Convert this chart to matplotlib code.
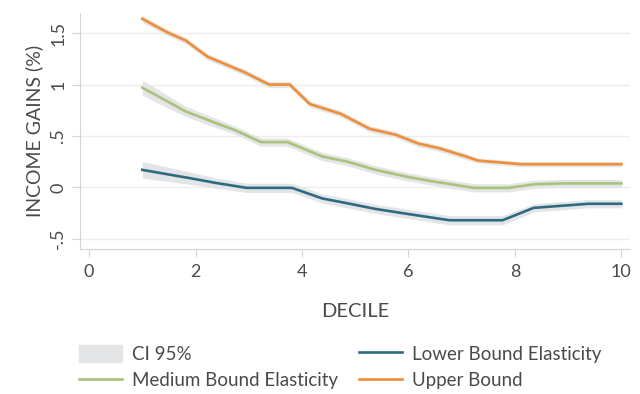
import matplotlib.pyplot as plt
from matplotlib.patches import Patch
from matplotlib.lines import Line2D

# values
lower_x = [1, 1.92, 2.38, 2.96, 3.81, 4.38, 4.85, 5.38, 6.0, 6.77, 7.77, 8.35, 9.38, 10]
lower_y = [0.17, 0.087, 0.043, -0.005, -0.005, -0.108, -0.155, -0.21, -0.26, -0.32, -0.32, -0.20, -0.16, -0.16]
lower_ci = [0.08, 0.06, 0.05, 0.045, 0.045, 0.045, 0.045, 0.045, 0.045, 0.045, 0.045, 0.04, 0.04, 0.04]

medium_x = [1, 1.81, 2.31, 2.77, 3.23, 3.73, 4.38, 4.85, 5.38, 6.0, 6.46, 6.92, 7.23, 7.88, 8.38, 8.92, 10]
medium_y = [0.97, 0.74, 0.64, 0.55, 0.44, 0.44, 0.30, 0.25, 0.17, 0.10, 0.058, 0.02, -0.005, -0.005, 0.03, 0.038, 0.038]
medium_ci = [0.075, 0.05, 0.045, 0.04, 0.04, 0.04, 0.04, 0.04, 0.04, 0.04, 0.04, 0.04, 0.04, 0.04, 0.04, 0.04, 0.04]

upper_x = [1, 1.46, 1.81, 2.23, 2.92, 3.38, 3.77, 4.15, 4.73, 5.27, 5.77, 6.19, 6.58, 7.08, 7.31, 8.12, 10]
upper_y = [1.64, 1.51, 1.43, 1.27, 1.12, 1.0, 1.0, 0.81, 0.715, 0.57, 0.51, 0.425, 0.38, 0.30, 0.26, 0.225, 0.225]
upper_ci = [0.035, 0.03, 0.03, 0.03, 0.03, 0.03, 0.03, 0.03, 0.03, 0.03, 0.03, 0.03, 0.03, 0.03, 0.025, 0.025, 0.025]

x_ticks = [0, 2, 4, 6, 8, 10]
y_ticks = [-0.5, 0, 0.5, 1, 1.5]
y_tick_labels = ['-.5', '0', '.5', '1', '1.5']

blue = '#2f6b80'
green = '#a9c37d'
orange = '#ef8e36'
band = '#e4e5e7'
text_col = '#4a4a4a'

plt.rcParams['font.family'] = ['Lato', 'DejaVu Sans']

fig = plt.figure(figsize=(6.4, 3.94), dpi=100)
ax = fig.add_axes([0.125, 0.368, 0.86, 0.60])

for xs, ys, ci, col in [(lower_x, lower_y, lower_ci, blue),
                        (medium_x, medium_y, medium_ci, green),
                        (upper_x, upper_y, upper_ci, orange)]:
    lo = [y - c for y, c in zip(ys, ci)]
    hi = [y + c for y, c in zip(ys, ci)]
    ax.fill_between(xs, lo, hi, color=band, lw=0, zorder=1)
    ax.plot(xs, ys, color=col, lw=1.9, zorder=3)

ax.set_xlim(-0.17, 10.17)
ax.set_ylim(-0.6, 1.7)
ax.set_xticks(x_ticks)
ax.set_yticks(y_ticks)
ax.set_yticklabels(y_tick_labels, rotation=90, va='center')
ax.grid(axis='y', color='#eeeeee', lw=1)
ax.set_axisbelow(True)

for s in ['top', 'right']:
    ax.spines[s].set_visible(False)
for s in ['left', 'bottom']:
    ax.spines[s].set_color('#d4d4d4')
ax.tick_params(colors='#d4d4d4', labelcolor=text_col, labelsize=13, length=6)
ax.tick_params(axis='y', pad=4)
ax.tick_params(axis='x', pad=5)

ax.set_ylabel('INCOME GAINS (%)', fontsize=14, color=text_col, labelpad=5)
ax.set_xlabel('DECILE', fontsize=14.5, color=text_col, labelpad=16)

handles = [Patch(color=band),
           Line2D([], [], color=green, lw=1.9),
           Line2D([], [], color=blue, lw=1.9),
           Line2D([], [], color=orange, lw=1.9)]
labels = ['CI 95%', 'Medium Bound Elasticity', 'Lower Bound Elasticity', 'Upper Bound']
leg = fig.legend(handles, labels, ncol=2, loc='lower left', bbox_to_anchor=(0.097, -0.03),
                 frameon=False, fontsize=13.5, handlelength=2.3, handletextpad=0.55,
                 handleheight=1.0, columnspacing=1.1, labelspacing=0.45)
for t in leg.get_texts():
    t.set_color(text_col)

fig.savefig('out.png', dpi=100)
